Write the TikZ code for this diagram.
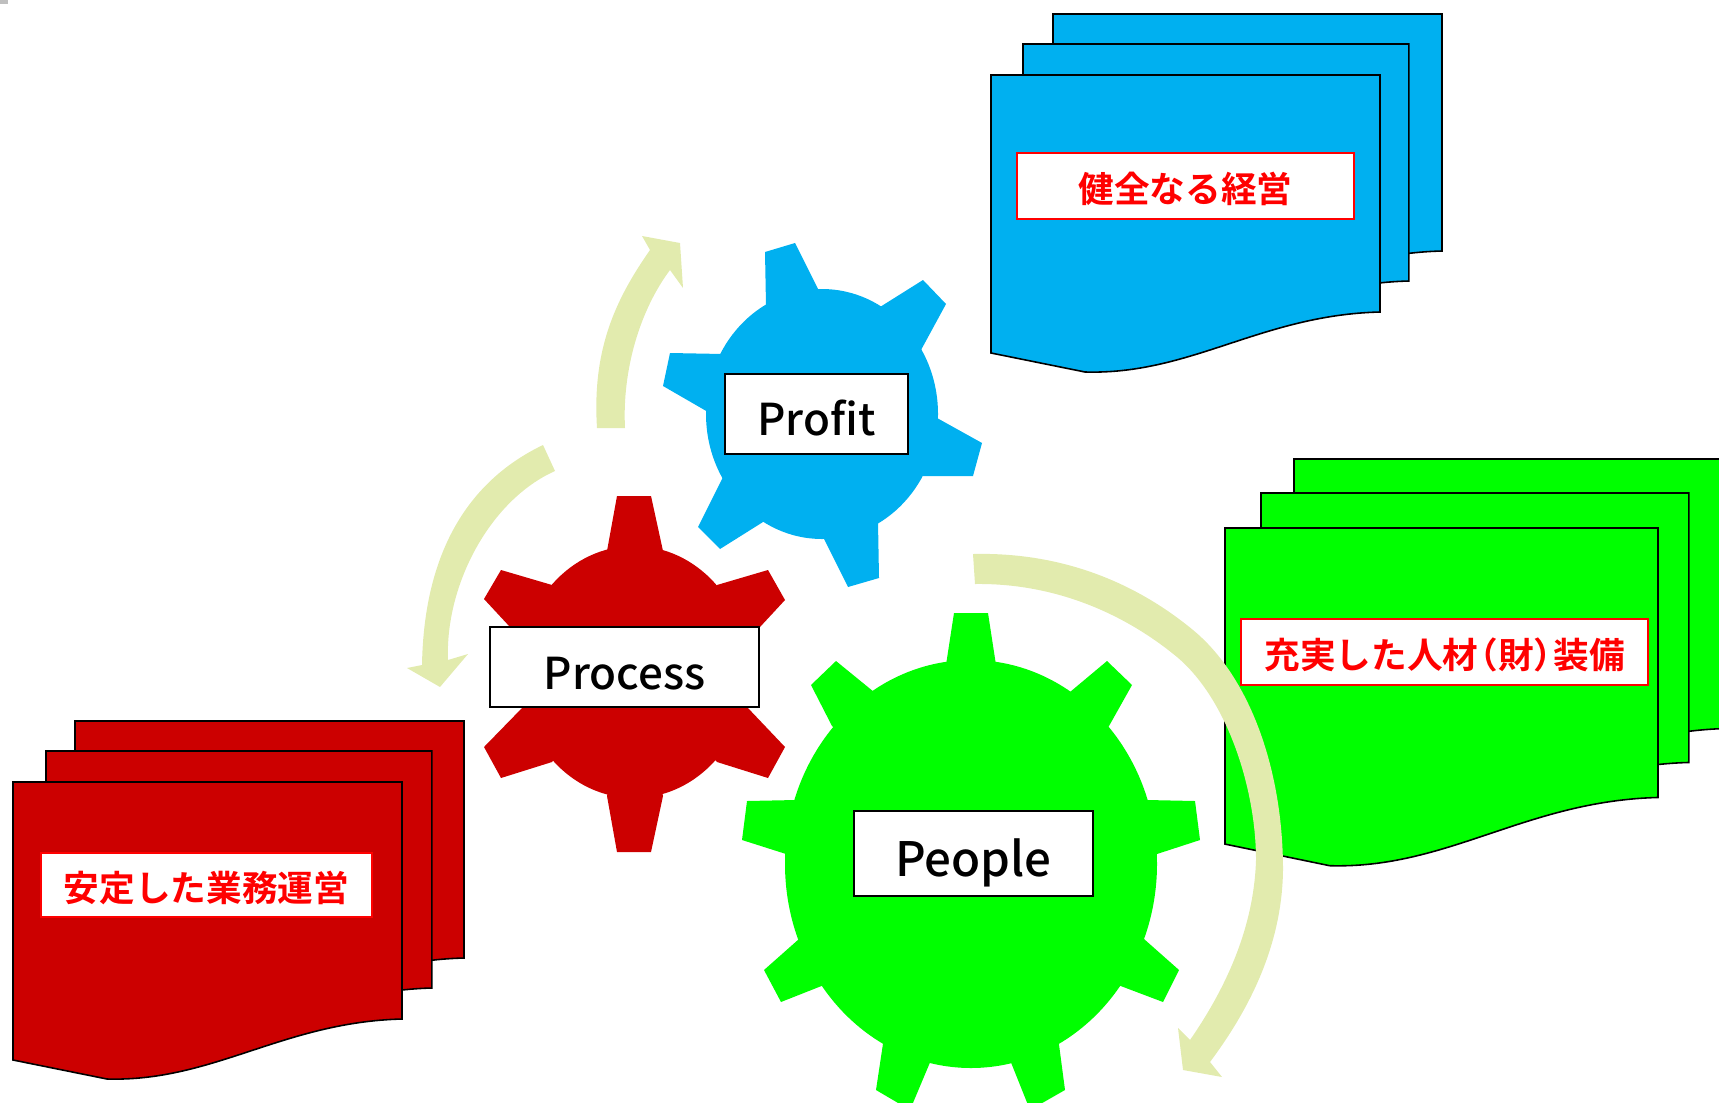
\documentclass[tikz,border=0pt]{standalone}
\usepackage{fontspec}
\setmainfont{Noto Sans CJK JP Medium}
\newfontfamily\goalfont{Noto Sans CJK JP Bold}
\usepackage{tikz}

\definecolor{procred}{HTML}{CC0000}
\definecolor{profblue}{HTML}{00B0F0}
\definecolor{peopgreen}{HTML}{00FF00}
\definecolor{cyclearrow}{HTML}{E2EBAE}

\tikzset{
	sheet/.style={draw=black,line width=0.9pt},
	gearlabel/.style={draw=black,fill=white,line width=0.9pt,inner sep=0pt,text=black},
	goallabel/.style={draw=red,fill=white,line width=0.9pt,inner sep=0pt,text=red,font=\goalfont\fontsize{20.3}{20.3}\selectfont}
}

\newcommand{\docsheet}[4]{\draw[sheet,fill=#1,shift={(#2,#3)},#4] (0,0) -- (389,0) -- (389,237) .. controls (270,240) and (200,300) .. (94,297) -- (0,278) -- cycle;}
\newcommand{\lowered}[2]{\raisebox{-#1}[\height][\depth]{#2}}

\begin{document}
\begin{tikzpicture}[x=0.02cm,y=-0.02cm,font=\fontsize{25}{25}\selectfont]
		\useasboundingbox (0,0) rectangle (1719,1102);
		\fill[gray!50] (0,0) rectangle (8,4);

		% document stacks, back sheet first
		\docsheet{profblue}{1053}{14}{}
		\docsheet{profblue}{1023}{44}{xscale=0.992}
		\docsheet{profblue}{991}{75}{}
		\docsheet{peopgreen}{1294}{459}{xscale=1.113,yscale=1.137}
		\docsheet{peopgreen}{1261}{493}{xscale=1.10,yscale=1.137}
		\docsheet{peopgreen}{1225}{528}{xscale=1.113,yscale=1.137}
		\docsheet{procred}{75}{721}{}
		\docsheet{procred}{46}{751}{xscale=0.992}
		\docsheet{procred}{13}{782}{}

		% profit gear
		\coordinate (profitc) at (822,414);
		\fill[profblue] (profitc) ellipse (116 and 125);
		\foreach \ax/\ay/\bx/\by/\cx/\cy/\dx/\dy in {766/306/765/252/795/243/818/289,880/307/923/280/946/304/921/350,937/418/982/443/973/476/923/476,878/522/879/578/848/587/824/539,763/522/720/549/698/527/723/477,708/412/663/386/670/353/723/354} { \fill[profblue] (\ax,\ay) -- (\bx,\by) -- (\cx,\cy) -- (\dx,\dy) -- (profitc) -- cycle;}

		% process gear
		\coordinate (processc) at (634,672);
		\fill[procred] (processc) ellipse (114 and 126);
		\foreach \ax/\ay/\bx/\by/\cx/\cy/\dx/\dy in {607/551/617/496/651/496/663/551,717/585/768/570/785/600/760/627,747/707/785/747/768/778/717/762,663/796/651/852/617/852/607/796,552/762/501/778/484/747/523/707,510/627/484/599/501/570/552/585} { \fill[procred] (\ax,\ay) -- (\bx,\by) -- (\cx,\cy) -- (\dx,\dy) -- (processc) -- cycle;}

		% people gear
		\coordinate (peoplec) at (971,864);
		\fill[peopgreen] (peoplec) ellipse (186 and 204);
		\foreach \ax/\ay/\bx/\by/\cx/\cy/\dx/\dy in {946/665/954/613/988/613/996/665,1070/692/1107/661/1132/685/1109/726,1147/800/1195/801/1200/840/1157/854,1144/939/1179/970/1163/1002/1118/985,1058/1037/1065/1090/1030/1110/1010/1060,931/1060/910/1110/876/1090/884/1037,824/985/781/1002/764/970/799/939,786/854/742/840/747/801/796/800,832/726/811/685/836/661/874/692} { \fill[peopgreen] (\ax,\ay) -- (\bx,\by) -- (\cx,\cy) -- (\dx,\dy) -- (peoplec) -- cycle;}

		% arrows of the cycle
		\fill[cyclearrow] (597,428) .. controls (592,350) and (615,300) .. (650,250) -- (642,236) -- (680,243) -- (683,288) -- (670,270) .. controls (640,310) and (622,370) .. (625,428) -- cycle;
		\fill[cyclearrow] (543,445) .. controls (470,480) and (424,550) .. (422,665) -- (407,668) -- (440,687) -- (468,654) -- (448,660) .. controls (445,585) and (490,500) .. (555,471) -- cycle;
		\fill[cyclearrow] (973,554) .. controls (1055,552) and (1130,578) .. (1193,630) .. controls (1250,677) and (1283,770) .. (1283,870) .. controls (1282,950) and (1245,1015) .. (1210,1062) -- (1222,1077) -- (1183,1070) -- (1178,1028) -- (1190,1040) .. controls (1228,985) and (1254,925) .. (1256,860) .. controls (1256,790) and (1228,700) .. (1177,657) .. controls (1120,610) and (1050,583) .. (975,584) -- cycle;

		\node[gearlabel,minimum width=3.66cm,minimum height=1.6cm] (profit) at (816.5,414) {\lowered{2.5pt}{Profit}};
		\node[gearlabel,minimum width=5.38cm,minimum height=1.6cm] (process) at (624.5,667) {\lowered{3.7pt}{Process}};
		\node[gearlabel,minimum width=4.78cm,minimum height=1.7cm,font=\fontsize{27}{27}\selectfont] (people) at (973.5,853.5) {\lowered{5.5pt}{People}};

		\node[goallabel,minimum width=6.74cm,minimum height=1.32cm] (keiei) at (1185.5,186) {\lowered{1.9pt}{健全なる経営}};
		\node[goallabel,minimum width=8.14cm,minimum height=1.32cm] (jinzai) at (1444.5,652) {\lowered{1.9pt}{充実した人材\kern-.45em（財）\kern-.45em装備}};
		\node[goallabel,minimum width=6.62cm,minimum height=1.28cm] (unei) at (206.5,885) {\lowered{1.9pt}{安定した業務運営}};
	\end{tikzpicture}
\end{document}
